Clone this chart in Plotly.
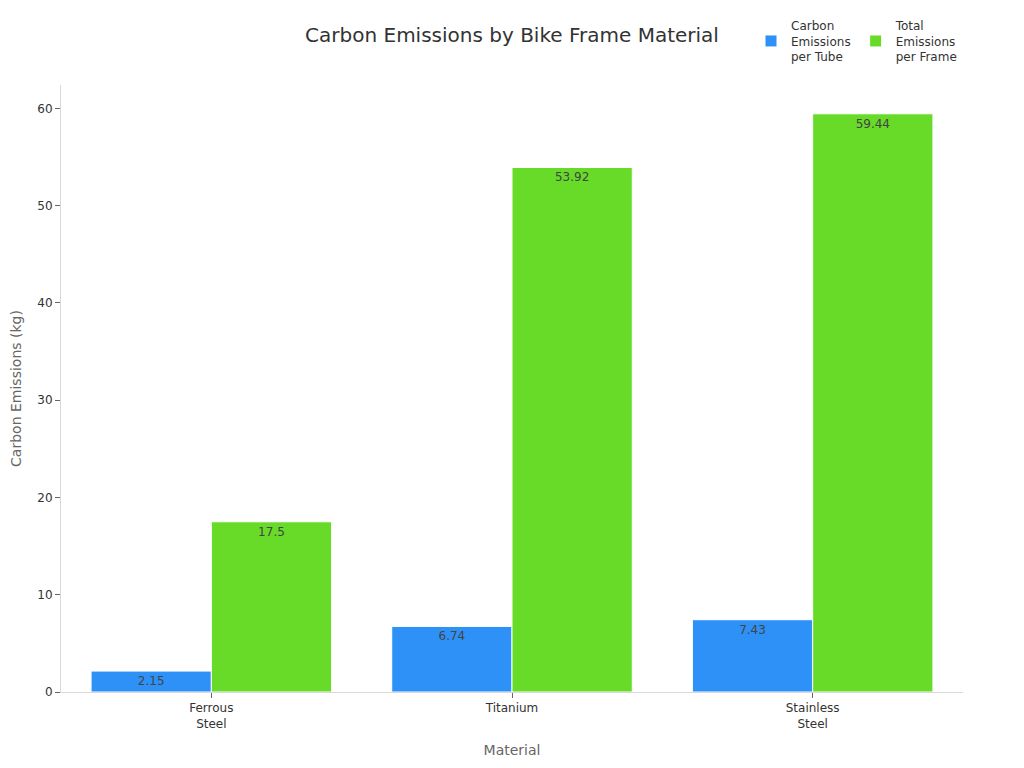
import plotly.graph_objects as go

materials = ["Ferrous<br>Steel", "Titanium", "Stainless<br>Steel"]
per_tube = [2.15, 6.74, 7.43]
per_frame = [17.5, 53.92, 59.44]
series_names = ["Carbon<br>Emissions<br>per Tube", "Total<br>Emissions<br>per Frame"]

fig = go.Figure()
fig.add_trace(go.Bar(x=materials, y=per_tube, name=series_names[0],
                     marker=dict(color="#2E91F8", line=dict(color="white", width=1)),
                     text=[str(v) for v in per_tube], textposition="inside",
                     insidetextanchor="end", textfont=dict(color="#444444", size=12)))
fig.add_trace(go.Bar(x=materials, y=per_frame, name=series_names[1],
                     marker=dict(color="#67DB28", line=dict(color="white", width=1)),
                     text=[str(v) for v in per_frame], textposition="inside",
                     insidetextanchor="end", textfont=dict(color="#444444", size=12)))

fig.update_layout(
    width=1024, height=768,
    font=dict(family="DejaVu Sans", size=12, color="#333333"),
    title=dict(text="Carbon Emissions by Bike Frame Material", x=0.5, xref="paper",
               xanchor="center", y=0.965, yanchor="middle",
               font=dict(size=20, color="#333333")),
    margin=dict(l=53, r=69, t=77, b=84),
    plot_bgcolor="white", paper_bgcolor="white",
    barmode="group", bargap=0.2, bargroupgap=0,
    legend=dict(orientation="h", x=1.0, xanchor="right", y=0.996, yref="container",
                yanchor="top", font=dict(size=12, color="#333333")),
    uniformtext=dict(mode="show", minsize=12),
)
fig.update_xaxes(title=dict(text="Material", font=dict(size=14, color="#666666")),
                 showline=True, linecolor="#d9d9d9", ticks="outside", tickcolor="#666666",
                 ticklen=5, showgrid=False, automargin=False)
fig.update_yaxes(title=dict(text="Carbon Emissions (kg)", font=dict(size=14, color="#666666")),
                 showline=True, linecolor="#d9d9d9", ticks="outside", tickcolor="#666666",
                 ticklen=5, showgrid=False, range=[0, 62.4], dtick=10, zeroline=False,
                 automargin=False)

fig.write_html("out.html")
